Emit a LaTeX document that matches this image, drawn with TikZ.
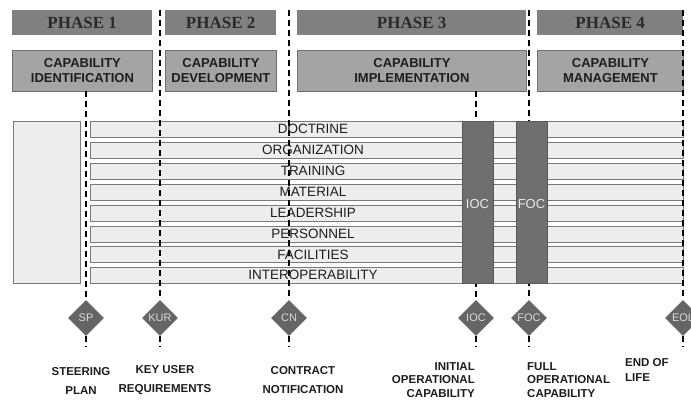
\documentclass[tikz,border=0pt]{standalone}
\usepackage{fontspec}
\setmainfont{Liberation Sans}
\newfontfamily\phfont{Liberation Serif}
\usetikzlibrary{shapes.geometric}
\definecolor{hdr}{HTML}{808080}
\definecolor{hdrtxt}{HTML}{2A2A2A}
\definecolor{capf}{HTML}{A4A4A4}
\definecolor{capbd}{HTML}{6E6E6E}
\definecolor{barf}{HTML}{EDEDED}
\definecolor{barbd}{HTML}{7A7A7A}
\definecolor{colf}{HTML}{6F6F6F}
\definecolor{diaf}{HTML}{656565}
\definecolor{txt}{HTML}{1E1E1E}
\begin{document}
\begin{tikzpicture}[x=1pt,y=-1pt,
  phasebox/.style={fill=hdr, draw=none, minimum height=25pt, inner sep=0pt, anchor=north west,
    font=\phfont\bfseries\fontsize{17}{17}\selectfont, text=hdrtxt},
  capbox/.style={fill=capf, draw=capbd, line width=0.8pt, minimum height=41pt, inner sep=0pt,
    anchor=north west, align=center, text=txt, font=\bfseries\fontsize{13}{15}\selectfont},
  barbox/.style={fill=barf, draw=barbd, line width=0.7pt, minimum height=16pt, minimum width=593pt,
    inner sep=0pt, anchor=north west},
  bartxt/.style={text=txt, font=\fontsize{13.5}{14}\selectfont, inner sep=0pt},
  colbox/.style={fill=colf, draw=colf!80!black, line width=0.6pt, minimum width=31pt, minimum height=162pt,
    inner sep=0pt, anchor=north west},
  coltxt/.style={text=white!92!black, font=\fontsize{13}{14}\selectfont, inner sep=0pt},
  mile/.style={diamond, fill=diaf, draw=none, minimum width=36pt, minimum height=36pt, inner sep=0pt,
    text=white!85!black, font=\fontsize{11}{11}\selectfont},
  dline/.style={draw=black, line width=2pt, dash pattern=on 6pt off 4pt},
  lbl/.style={text=txt, inner sep=0pt, font=\bfseries\fontsize{11.5}{13.5}\selectfont}
]
\useasboundingbox (0,0) rectangle (691,400);
\fill[white] (0,0) rectangle (691,400);

% phase headers
\node[phasebox, minimum width=140pt] (p1) at (12,10) {PHASE 1};
\node[phasebox, minimum width=111pt] (p2) at (165,10) {PHASE 2};
\node[phasebox, minimum width=229pt] (p3) at (297,10) {PHASE 3};
\node[phasebox, minimum width=146pt] (p4) at (537,10) {PHASE 4};

% capability boxes
\node[capbox, minimum width=140pt] (c1) at (12,50) {CAPABILITY\\IDENTIFICATION};
\node[capbox, minimum width=111pt] (c2) at (165,50) {CAPABILITY\\DEVELOPMENT};
\node[capbox, minimum width=229pt] (c3) at (297,50) {CAPABILITY\\IMPLEMENTATION};
\node[capbox, minimum width=146pt] (c4) at (537,50) {CAPABILITY\\MANAGEMENT};

% left box
\node[fill=barf, draw=barbd, line width=0.7pt, minimum width=67pt, minimum height=162pt,
  inner sep=0pt, anchor=north west] (lb) at (13,121) {};

% bars
\foreach \n [count=\i from 0] in {DOCTRINE,ORGANIZATION,TRAINING,MATERIAL,LEADERSHIP,PERSONNEL,FACILITIES,INTEROPERABILITY}{
  \node[barbox] (bar\i) at (90,121+\i*20.9) {};
  \node[bartxt] (bt\i) at (313,129+\i*20.9) {\n};
}

% milestones
\node[mile] (sp) at (86,318) {SP};
\node[mile] (kur) at (160,318) {KUR};
\node[mile] (cn) at (289,318) {CN};
\node[mile] (ioc) at (476,318) {IOC};
\node[mile] (foc) at (529,318) {FOC};
\node[mile] (eol) at (683,318) {EOL};

% dashed line ends
\coordinate (t2) at (160,10);
\coordinate (t3) at (289,10);
\coordinate (t5) at (529,10);
\coordinate (t6) at (683,10);
\coordinate (t1) at (86,91);
\coordinate (t4) at (476,91);
\foreach \m in {sp,kur,cn,ioc,foc,eol}{
  \coordinate (e\m) at ([yshift=-11pt]\m.south);
}

\draw[dline] (t1) -- (sp.north);
\draw[dline] (t2) -- (kur.north);
\draw[dline] (t3) -- (cn.north);
\draw[dline] (t4) -- (ioc.north);
\draw[dline] (t5) -- (foc.north);
\draw[dline] (t6) -- (eol.north);
\foreach \m in {sp,kur,cn,ioc,foc,eol}{
  \draw[dline] (\m.south) -- (e\m);
}

% IOC / FOC columns
\node[colbox] (iocc) at (462,121) {};
\node[colbox] (focc) at (516,121) {};
\node[coltxt] (ioct) at (477.5,204) {IOC};
\node[coltxt] (foct) at (531.5,204) {FOC};

% bottom labels
\node[lbl, align=center, font=\bfseries\fontsize{11.5}{19}\selectfont] (l1) at (81,380.5) {STEERING\\PLAN};
\node[lbl, align=center, font=\bfseries\fontsize{11.5}{19}\selectfont] (l2) at (165,380.5) {KEY USER\\REQUIREMENTS};
\node[lbl, align=center, font=\bfseries\fontsize{11.5}{19}\selectfont] (l3) at (303,380.5) {CONTRACT\\NOTIFICATION};
\node[lbl, align=right, anchor=east] (l4) at (475,380) {INITIAL\\OPERATIONAL\\CAPABILITY};
\node[lbl, align=left, anchor=west] (l5) at (527,380) {FULL\\OPERATIONAL\\CAPABILITY};
\node[lbl, align=left, anchor=west, font=\bfseries\fontsize{11.5}{15}\selectfont] (l6) at (625,369.5) {END OF\\LIFE};
\end{tikzpicture}
\end{document}
